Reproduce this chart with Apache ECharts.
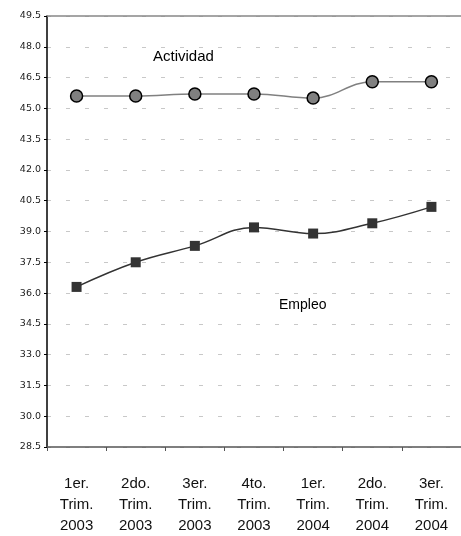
<!DOCTYPE html>
<html>
<head>
<meta charset="utf-8">
<script src="https://cdn.jsdelivr.net/npm/echarts@6/dist/echarts.min.js"></script>
<style>
  html, body { margin: 0; padding: 0; background: #fff; }
  #chart { width: 461px; height: 536px; }
</style>
</head>
<body>
<div id="chart"></div>
<script>
// trimestres
const categories = [
  '1er.\nTrim.\n2003', '2do.\nTrim.\n2003', '3er.\nTrim.\n2003', '4to.\nTrim.\n2003',
  '1er.\nTrim.\n2004', '2do.\nTrim.\n2004', '3er.\nTrim.\n2004'
]
const actividad = [45.6, 45.6, 45.7, 45.7, 45.5, 46.3, 46.3]
const empleo = [36.3, 37.5, 38.3, 39.2, 38.9, 39.4, 40.2]
const yMin = 28.5
const yMax = 49.5
const yStep = 1.5

const chart = echarts.init(document.getElementById('chart'))

const option = {
  animation: false,
  grid: { left: 47, right: -3, top: 16, bottom: 88 },
  xAxis: [
    {
      type: 'category',
      data: categories,
      boundaryGap: true,
      axisLine: { lineStyle: { color: '#555', width: 1.5 } },
      axisTick: { show: true, length: 4, lineStyle: { color: '#555' } },
      axisLabel: {
        interval: 0,
        margin: 26,
        fontFamily: 'Liberation Sans, Arial',
        fontSize: 15,
        lineHeight: 21,
        color: '#111'
      }
    },
    {
      // borde superior
      type: 'category',
      position: 'top',
      data: categories,
      axisLine: { show: true, lineStyle: { color: '#888', width: 1.5 } },
      axisTick: { show: false },
      axisLabel: { show: false }
    }
  ],
  yAxis: {
    type: 'value',
    min: yMin,
    max: yMax,
    interval: yStep,
    axisLine: { show: true, lineStyle: { color: '#000', width: 1.5 } },
    axisTick: { show: true, length: 3, lineStyle: { color: '#000' } },
    axisLabel: {
      margin: 6,
      fontFamily: 'DejaVu Sans',
      fontSize: 9.5,
      color: '#222',
      formatter: v => v.toFixed(1)
    },
    splitLine: {
      show: true,
      lineStyle: { color: '#c8c8c8', type: [4, 15], width: 1 }
    }
  },
  series: [
    {
      name: 'Actividad',
      type: 'line',
      data: actividad,
      smooth: 0.4,
      symbol: 'circle',
      symbolSize: 12,
      lineStyle: { color: '#808080', width: 1.5 },
      itemStyle: { color: '#808080', borderColor: '#000', borderWidth: 1.5 }
    },
    {
      name: 'Empleo',
      type: 'line',
      data: empleo,
      smooth: 0.4,
      symbol: 'rect',
      symbolSize: 10,
      lineStyle: { color: '#333', width: 1.5 },
      itemStyle: { color: '#333', borderColor: '#333', borderWidth: 0 }
    }
  ],
  graphic: [
    {
      type: 'text',
      left: 153,
      top: 49,
      style: { text: 'Actividad', font: '15px Liberation Sans, Arial', fill: '#000' }
    },
    {
      type: 'text',
      left: 279,
      top: 298,
      style: { text: 'Empleo', font: '14px Liberation Sans, Arial', fill: '#000' }
    }
  ]
}

chart.setOption(option)
</script>
</body>
</html>
